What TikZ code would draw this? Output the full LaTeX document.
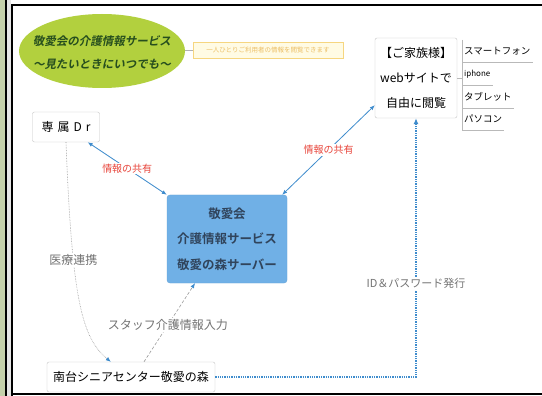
\documentclass[tikz,border=0pt]{standalone}
\usepackage{fontspec}
\setmainfont{Noto Sans CJK JP}[BoldFont={Noto Sans CJK JP Bold}]
\newfontfamily\headfont{Noto Sans CJK JP Bold}[FakeSlant=0.2]
\usetikzlibrary{arrows.meta}

\definecolor{leaf}{RGB}{178,208,62}
\definecolor{leafdark}{RGB}{38,78,30}
\definecolor{sky}{RGB}{112,176,230}
\definecolor{skyline}{RGB}{62,140,205}
\definecolor{ink}{RGB}{48,68,92}
\definecolor{linkred}{RGB}{232,70,60}
\definecolor{memofill}{RGB}{255,251,228}
\definecolor{memoline}{RGB}{246,214,128}
\definecolor{memotext}{RGB}{236,190,100}
\definecolor{stripgreen}{RGB}{196,208,170}

\tikzstyle{headline} = [inner sep=0, align=center, text=leafdark, font=\headfont\fontsize{11.5}{23}\selectfont]
\tikzstyle{memo} = [draw=memoline, fill=memofill, inner sep=1pt, minimum width=150pt, minimum height=16pt, text=memotext, font=\fontsize{6.5}{8}\selectfont]
\tikzstyle{card} = [draw=gray!45, fill=white, rounded corners=2pt, align=center, inner sep=3pt, font=\fontsize{12}{25}\selectfont]
\tikzstyle{hub} = [draw=skyline!80, fill=sky, rounded corners=3pt, align=center, minimum width=120pt, minimum height=88pt, text=ink, font=\bfseries\fontsize{12.5}{25.5}\selectfont]
\tikzstyle{item} = [inner sep=2pt, minimum height=22pt, font=\fontsize{9.5}{11}\selectfont]
\tikzstyle{itemline} = [draw=gray!55, line width=0.6pt]
\tikzstyle{sharelink} = [draw=skyline, line width=0.8pt, {Latex[length=5pt,width=4pt]}-{Latex[length=5pt,width=4pt]}]
\tikzstyle{sharetag} = [fill=white, inner sep=1pt, text=linkred, font=\fontsize{10}{12}\selectfont]
\tikzstyle{graytag} = [fill=white, inner sep=1.5pt, text=gray!90!black, font=\fontsize{12}{14}\selectfont]
\tikzstyle{idlink} = [draw=skyline, line width=1.3pt, densely dotted, -{Latex[length=6pt,width=5pt]}]
\tikzstyle{softlink} = [draw=gray!80, line width=0.6pt, -{Latex[length=5pt,width=4pt,color=skyline]}]

\begin{document}
\begin{tikzpicture}[x=1pt,y=-1pt]
\useasboundingbox (0,0) rectangle (542,396);

%Frame
	\fill[white] (0,0) rectangle (542,396);
	\fill[stripgreen] (0,0) rectangle (5,396);
	\draw[line width=1.5pt] (6,0) -- (6,396);
	\fill[gray!20] (7,0) rectangle (11,396);
	\draw[line width=2pt] (12,396) -- (12,5) -- (542,5);
	\draw[line width=2.5pt] (12,394) -- (542,394);

%Nodes
	\fill[leaf] (102,51) ellipse [x radius=83, y radius=37];
	\node[headline] (head) at (102,53) {敬愛会の介護情報サービス\\～見たいときにいつでも～};
	\coordinate (headright) at (185,50);
	\node[memo] (memo) at (268,50) {一人ひとりご利用者の情報を閲覧できます};
	\node[card, minimum width=82pt, minimum height=80pt] (family) at (416,78) {【ご家族様】\\webサイトで\\自由に閲覧};
	\node[card, minimum width=67pt, minimum height=30pt] (dr) at (66,127) {専\,\,属\,\,D\,\,r};
	\node[hub] (server) at (227,239) {敬愛会\\介護情報サービス\\敬愛の森サーバー};
	\node[card, minimum width=168pt, minimum height=30pt, inner sep=4pt] (center) at (131,377) {南台シニアセンター敬愛の森};

	\foreach \name/\txt/\y in {smart/スマートフォン/51, iphone/{\fontsize{8}{10}\selectfont iphone}/74, tablet/タブレット/97, pc/パソコン/119} {
		\node[item, anchor=west] (\name) at (462,\y) {\txt};
		\draw[itemline] (\name.north west) -- (\name.south west) -- (\name.south east);
	}

%Connections
	\draw[gray!60, line width=0.6pt] (headright) -- (memo.west);
	\draw[itemline] (family.east) -- (family.east -| iphone.west);

	\draw[sharelink] ([xshift=-12pt]dr.south east) -- (server.north west) node[sharetag, midway] {情報の共有};
	\draw[sharelink] ([xshift=-5pt]server.north east) -- ([yshift=13pt]family.south west) node[sharetag, midway] {情報の共有};

	\draw[softlink, densely dotted] (dr.south) .. controls (72,300) and (82,338) .. ([xshift=64pt]center.north west) node[graytag, pos=0.32] {医療連携};
	\draw[softlink, densely dashed] ([xshift=13pt]center.north) -- ([xshift=-32pt]server.south) node[graytag, pos=0.47] {スタッフ介護情報入力};

	\draw[idlink] (center.east) -| (family.south) node[graytag, pos=0.68, font=\fontsize{11}{13}\selectfont] {ID＆パスワード発行};

\end{tikzpicture}
\end{document}
